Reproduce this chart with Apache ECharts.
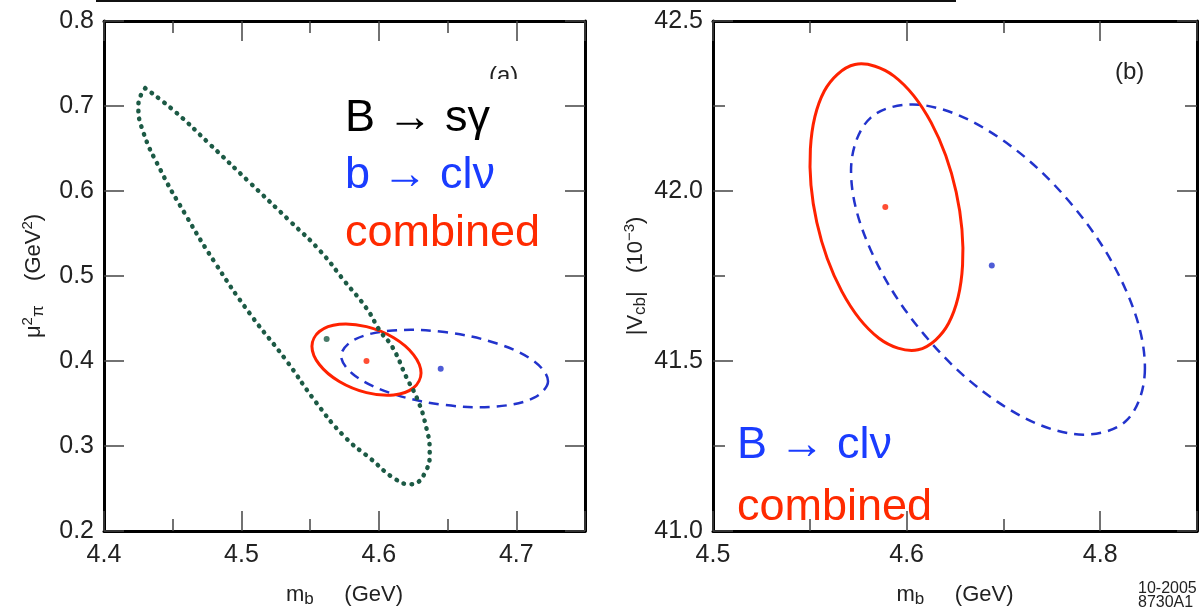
<!DOCTYPE html>
<html><head><meta charset="utf-8">
<script src="https://cdn.jsdelivr.net/npm/echarts@6/dist/echarts.min.js"></script>
<style>html,body{margin:0;padding:0;background:#fff}#c{width:1203px;height:613px}</style>
</head><body><div id="c"></div>
<script>
// ---- data ----
// Panel (a): m_b (GeV) vs mu_pi^2 (GeV^2)
const bsgContourA = [[4.430,0.721],[4.452,0.693],[4.477,0.655],[4.506,0.610],[4.535,0.565],[4.557,0.530],[4.575,0.494],[4.591,0.462],[4.601,0.435],[4.610,0.416],[4.620,0.381],[4.628,0.355],[4.634,0.325],[4.637,0.293],[4.634,0.270],[4.623,0.255],[4.612,0.261],[4.594,0.285],[4.575,0.311],[4.554,0.352],[4.532,0.402],[4.506,0.456],[4.481,0.515],[4.459,0.573],[4.441,0.625],[4.428,0.672],[4.425,0.701],[4.430,0.721]];
const bsgCentreA = [[4.562,0.426]];
const combContourA = [[4.6307,0.3858],[4.6253,0.3685],[4.6108,0.3600],[4.5910,0.3628],[4.5712,0.3759],[4.5567,0.3959],[4.5513,0.4175],[4.5567,0.4347],[4.5712,0.4432],[4.5910,0.4404],[4.6108,0.4274],[4.6253,0.4073]];
const combCentreA = [[4.591,0.400]];
const clnuContourA = [[4.7231,0.3762],[4.7130,0.3568],[4.6854,0.3465],[4.6478,0.3483],[4.6101,0.3614],[4.5826,0.3826],[4.5725,0.4061],[4.5826,0.4255],[4.6101,0.4358],[4.6478,0.4340],[4.6854,0.4209],[4.7130,0.3997]];
const clnuCentreA = [[4.645,0.391]];
// Panel (b): m_b (GeV) vs |Vcb| (10^-3)
const combContourB = [[4.6059,41.533],[4.6217,41.611],[4.6289,41.781],[4.6256,41.997],[4.6127,42.201],[4.5935,42.338],[4.5733,42.372],[4.5575,42.294],[4.5503,42.124],[4.5536,41.908],[4.5666,41.704],[4.5857,41.567]];
const combCentreB = [[4.589,41.953]];
const clnuContourB = [[4.7231,41.478],[4.7130,41.322],[4.6852,41.286],[4.6472,41.379],[4.6092,41.577],[4.5815,41.826],[4.5713,42.060],[4.5815,42.216],[4.6092,42.252],[4.6472,42.159],[4.6852,41.961],[4.7130,41.712]];
const clnuCentreB = [[4.644,41.781]];
// tick labels (as printed)
const xTicksA = {"4.4":"4.4","4.5":"4.5","4.6":"4.6","4.7":"4.7"};
const yTicksA = {"0.2":"0.2","0.3":"0.3","0.4":"0.4","0.5":"0.5","0.6":"0.6","0.7":"0.7","0.8":"0.8"};
const xTicksB = {"4.5":"4.5","4.6":"4.6","4.7":"4.8"};
const yTicksB = {"41.0":"41.0","41.5":"41.5","42.0":"42.0","42.5":"42.5"};
const legendA = ["B → sγ","b → clν","combined"];
const legendB = ["B → clν","combined"];

// ---- styles ----
const FONT = '"Liberation Sans", Arial, Helvetica, sans-serif';
const RED = '#ff2200', BLUE = '#2233cc', GREEN = '#1c5a45';
const TICKC = '#444';
const lab = (map, dec) => v => { const k = Number(v).toFixed(dec); return map[k] !== undefined ? map[k] : ''; };
const minorOn = {show:true, splitNumber:2, length:12, lineStyle:{color:TICKC, width:1.5}};
function ax(opts){
  return Object.assign({
    type:'value', splitLine:{show:false},
    axisLine:{show:true, onZero:false, lineStyle:{color:'#000', width:3}},
    axisTick:{show:true, inside:true, length:20, lineStyle:{color:TICKC, width:1.5}},
    minorTick:{show:false},
    axisLabel:{show:false}
  }, opts);
}
const tickLab = (map, margin) => ({show:true, color:'#222', fontSize:25, fontFamily:FONT, margin:margin, formatter:lab(map,1), showMinLabel:true, showMaxLabel:true});
const gA = {left:104, top:21, width:481, height:515};
const gB = {left:713, top:21, width:484, height:515};
const xa = {min:4.4, max:4.75, interval:0.1};
const ya = {min:0.2, max:0.8, interval:0.1};
const xb = {min:4.5, max:4.75, interval:0.1};
const yb = {min:41.0, max:42.5, interval:0.5};

const rich = {sub:{fontSize:17, fontFamily:FONT, color:'#222', verticalAlign:'bottom', padding:[10,0,0,0]},
              sup:{fontSize:15, fontFamily:FONT, color:'#222', verticalAlign:'top', padding:[0,0,10,0]},
              n:{fontSize:22, fontFamily:FONT, color:'#222'}};
const nameStyle = {fontSize:22, fontFamily:FONT, color:'#222', rich:rich};

function contour(pts, xi, yi, style){
  return {type:'custom', xAxisIndex:xi, yAxisIndex:yi, data:[pts[0]], clip:false, silent:true,
    renderItem:function(params, api){
      return {type:'polygon', shape:{points:pts.map(p => api.coord(p)), smooth:0.35},
              style:Object.assign({fill:'none'}, style)};
    }};
}

const option = {
  animation:false,
  grid:[Object.assign({containLabel:false}, gA), Object.assign({containLabel:false}, gB)],
  xAxis:[
    ax(Object.assign({gridIndex:0, position:'bottom', name:'{n|m}{sub|b}{n|     (GeV)}', nameLocation:'middle', nameGap:50, nameTextStyle:nameStyle,
      minorTick:minorOn, axisLabel:tickLab(xTicksA,12)}, xa)),
    ax(Object.assign({gridIndex:0, position:'top', minorTick:minorOn}, xa)),
    ax(Object.assign({gridIndex:1, position:'bottom', name:'{n|m}{sub|b}{n|     (GeV)}', nameLocation:'middle', nameGap:50, nameTextStyle:nameStyle,
      minorTick:minorOn, axisLabel:tickLab(xTicksB,12)}, xb)),
    ax(Object.assign({gridIndex:1, position:'top', minorTick:minorOn}, xb))
  ],
  yAxis:[
    ax(Object.assign({gridIndex:0, position:'left', name:'{n|μ}{sup|2}{sub|π}{n|    (GeV}{sup|2}{n|)}', nameLocation:'middle', nameGap:57, nameRotate:90, nameTextStyle:nameStyle,
      axisLabel:tickLab(yTicksA,10)}, ya)),
    ax(Object.assign({gridIndex:0, position:'right'}, ya)),
    ax(Object.assign({gridIndex:1, position:'left', name:'{n||V}{sub|cb}{n||   (10}{sup|−3}{n|)}', nameLocation:'middle', nameGap:64, nameRotate:90, nameTextStyle:nameStyle,
      minorTick:minorOn, axisLabel:tickLab(yTicksB,10)}, yb)),
    ax(Object.assign({gridIndex:1, position:'right', minorTick:minorOn}, yb))
  ],
  series:[
    {type:'line', xAxisIndex:0, yAxisIndex:0, data:bsgContourA, smooth:0.5, showSymbol:false, silent:true,
      lineStyle:{color:GREEN, width:4.5, type:[0.5,7.5], cap:'round'}},
    contour(clnuContourA, 0, 0, {stroke:BLUE, lineWidth:2.5, lineDash:[10,7]}),
    contour(combContourA, 0, 0, {stroke:RED, lineWidth:3}),
    {type:'scatter', xAxisIndex:0, yAxisIndex:0, data:bsgCentreA, symbolSize:6, itemStyle:{color:GREEN}},
    {type:'scatter', xAxisIndex:0, yAxisIndex:0, data:clnuCentreA, symbolSize:6, itemStyle:{color:BLUE}},
    {type:'scatter', xAxisIndex:0, yAxisIndex:0, data:combCentreA, symbolSize:6, itemStyle:{color:RED}},
    contour(clnuContourB, 2, 2, {stroke:BLUE, lineWidth:2.5, lineDash:[10,7]}),
    contour(combContourB, 2, 2, {stroke:RED, lineWidth:3}),
    {type:'scatter', xAxisIndex:2, yAxisIndex:2, data:clnuCentreB, symbolSize:6, itemStyle:{color:BLUE}},
    {type:'scatter', xAxisIndex:2, yAxisIndex:2, data:combCentreB, symbolSize:6, itemStyle:{color:RED}}
  ],
  graphic:[
    {type:'line', shape:{x1:96, y1:1, x2:956, y2:1}, style:{stroke:'#111', lineWidth:2}},
    {type:'text', left:489, top:64, style:{text:'(a)', fontSize:24, fontFamily:FONT, fill:'#222'}},
    {type:'rect', shape:{x:486, y:79, width:40, height:14}, style:{fill:'#fff'}},
    {type:'text', left:1115, top:60, style:{text:'(b)', fontSize:24, fontFamily:FONT, fill:'#222'}},
    {type:'text', left:345, top:96, style:{text:legendA[0], fontSize:45, fontFamily:FONT, fill:'#000'}},
    {type:'text', left:345, top:153, style:{text:legendA[1], fontSize:45, fontFamily:FONT, fill:'#1a3cff'}},
    {type:'text', left:345, top:211, style:{text:legendA[2], fontSize:45, fontFamily:FONT, fill:'#ff2a00'}},
    {type:'text', left:737, top:423, style:{text:legendB[0], fontSize:45, fontFamily:FONT, fill:'#1a3cff'}},
    {type:'text', left:737, top:485, style:{text:legendB[1], fontSize:45, fontFamily:FONT, fill:'#ff2a00'}},
    {type:'text', left:1138, top:581, style:{text:'10-2005\n8730A1', fontSize:16, lineHeight:14, fontFamily:FONT, fill:'#222', align:'center'}}
  ]
};
const chart = echarts.init(document.getElementById('c'), null, {renderer:'canvas'});
chart.setOption(option);
</script></body></html>
